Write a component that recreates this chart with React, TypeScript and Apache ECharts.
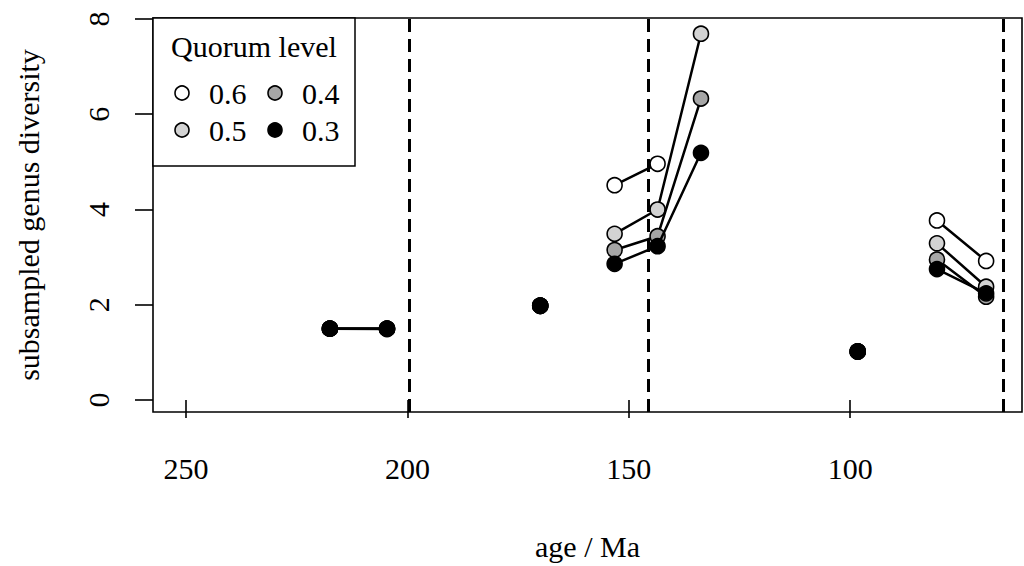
import React, { useEffect, useRef } from "react";
import * as echarts from "echarts";

// Data (ages in Ma, grouped into connected intervals)
const intervals: number[][] = [[217.5, 204.6], [170.0], [153.2, 143.5, 133.7], [98.3], [80.4, 69.3]];
const q06: (number | null)[][] = [[1.5, 1.5], [1.98], [4.51, 4.96, null], [1.02], [3.77, 2.92]];
const q05: (number | null)[][] = [[1.5, 1.5], [1.98], [3.49, 4.0, 7.69], [1.02], [3.29, 2.38]];
const q04: (number | null)[][] = [[1.5, 1.5], [1.98], [3.15, 3.44, 6.33], [1.02], [2.95, 2.17]];
const q03: (number | null)[][] = [[1.5, 1.49], [1.98], [2.86, 3.23, 5.19], [1.02], [2.75, 2.24]];
const levelNames = ["0.6", "0.5", "0.4", "0.3"];
const levelColors = ["#ffffff", "#d3d3d3", "#a6a6a6", "#000000"];
const boundaries = [199.6, 145.5, 65.5];
const xTicks = [250, 200, 150, 100];
const yTicks = [0, 2, 4, 6, 8];

const FONT = "'Liberation Serif', 'Times New Roman', serif";

function buildData(values: (number | null)[][]) {
  const out: any[] = [];
  intervals.forEach((ages, gi) => {
    if (gi > 0) out.push(["-", "-"]);
    ages.forEach((a, i) => {
      const v = values[gi][i];
      out.push(v === null ? [a, "-"] : [a, v]);
    });
  });
  return out;
}

export default function App() {
  const ref = useRef<HTMLDivElement>(null);
  useEffect(() => {
    if (!ref.current) return;
    const chart = echarts.init(ref.current, null, { renderer: "svg" });
    const all = [q06, q05, q04, q03];
    const series: any[] = all.map((vals, i) => ({
      type: "line",
      name: levelNames[i],
      data: buildData(vals),
      connectNulls: false,
      symbol: "circle",
      symbolSize: 15,
      showSymbol: true,
      z: 3 + i,
      lineStyle: { color: "#000", width: 2.5 },
      itemStyle: { color: levelColors[i], borderColor: "#000", borderWidth: 1.6 },
    }));
    series.unshift({
      type: "line",
      data: [],
      z: 1,
      markLine: {
        silent: true,
        symbol: "none",
        label: { show: false },
        lineStyle: { color: "#000", width: 3, type: [13, 7] },
        data: boundaries.map((b) => ({ xAxis: b })),
      },
    });

    const legendX1 = 182, legendX2 = 275, row1 = 93, row2 = 130;
    const legendItems = [
      { cx: legendX1, cy: row1, i: 0 },
      { cx: legendX1, cy: row2, i: 1 },
      { cx: legendX2, cy: row1, i: 2 },
      { cx: legendX2, cy: row2, i: 3 },
    ];
    const graphic: any[] = [
      {
        type: "rect",
        shape: { x: 153, y: 18, width: 202, height: 148 },
        style: { fill: "#fff", stroke: "#000", lineWidth: 1.5 },
        z: 100,
      },
      {
        type: "text",
        x: 254,
        y: 46,
        style: { text: "Quorum level", font: `30px ${FONT}`, fill: "#000", textAlign: "center", textVerticalAlign: "middle" },
        z: 101,
      },
    ];
    legendItems.forEach((it) => {
      graphic.push({
        type: "circle",
        shape: { cx: it.cx, cy: it.cy, r: 7 },
        style: { fill: levelColors[it.i], stroke: "#000", lineWidth: 1.6 },
        z: 101,
      });
      graphic.push({
        type: "text",
        x: it.cx + 27,
        y: it.cy,
        style: { text: levelNames[it.i], font: `30px ${FONT}`, fill: "#000", textAlign: "left", textVerticalAlign: "middle" },
        z: 101,
      });
    });

    chart.setOption({
      animation: false,
      backgroundColor: "#fff",
      textStyle: { fontFamily: FONT },
      grid: { left: 153, top: 18, right: 2, bottom: 151, show: true, borderColor: "#000", borderWidth: 1.6, backgroundColor: "transparent" },
      xAxis: {
        type: "value",
        inverse: true,
        min: 61.2,
        max: 257.45,
        name: "age / Ma",
        nameLocation: "middle",
        nameGap: 119,
        nameTextStyle: { fontSize: 30, color: "#000", fontFamily: FONT },
        axisLine: { show: false },
        splitLine: { show: false },
        axisTick: { show: true, length: 18, inside: false, customValues: xTicks, lineStyle: { color: "#000", width: 1.6 } },
        axisLabel: { show: true, margin: 41, fontSize: 30, color: "#000", fontFamily: FONT, customValues: xTicks },
      },
      yAxis: {
        type: "value",
        min: -0.25,
        max: 8.02,
        name: "subsampled genus diversity",
        nameLocation: "middle",
        nameGap: 110,
        nameTextStyle: { fontSize: 30, color: "#000", fontFamily: FONT },
        axisLine: { show: false },
        splitLine: { show: false },
        axisTick: { show: true, length: 18, inside: false, customValues: yTicks, lineStyle: { color: "#000", width: 1.6 } },
        axisLabel: { show: true, margin: 40, rotate: 90, fontSize: 30, color: "#000", fontFamily: FONT, customValues: yTicks },
      },
      series,
      graphic,
    });
    return () => chart.dispose();
  }, []);
  return <div ref={ref} style={{ position: "absolute", left: 0, top: 0, width: 1024, height: 566 }} />;
}
